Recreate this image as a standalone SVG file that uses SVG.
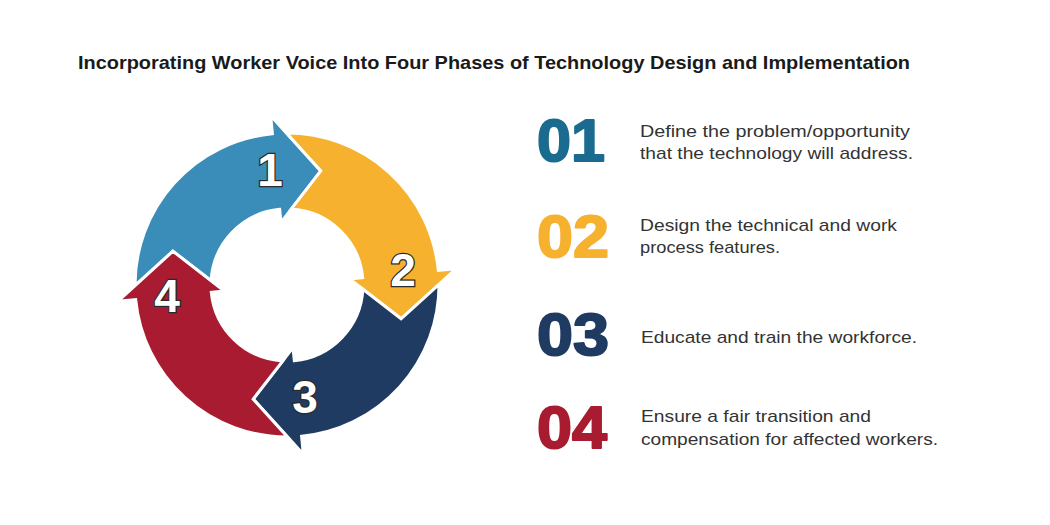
<svg xmlns="http://www.w3.org/2000/svg" width="1050" height="525" viewBox="0 0 1050 525">
<style>
.arrow{stroke:#ffffff;stroke-width:3;stroke-linejoin:miter}
.num{font-family:"Liberation Sans",Arial,sans-serif;font-weight:bold;font-size:46px;fill:#ffffff;stroke:#2a2a2a;stroke-width:2.5;paint-order:stroke;text-anchor:middle}
.big{font-family:"Liberation Sans",Arial,sans-serif;font-weight:bold;font-size:60px;stroke-width:2;stroke-linejoin:round}
.desc{font-family:"Liberation Sans",Arial,sans-serif;font-size:17px;fill:#333333}
.title{font-family:"Liberation Sans",Arial,sans-serif;font-weight:bold;font-size:19px;fill:#1a1a1a}
</style>
<rect width="1050" height="525" fill="#ffffff"/>
<text class="title" x="78" y="69" textLength="832" lengthAdjust="spacingAndGlyphs">Incorporating Worker Voice Into Four Phases of Technology Design and Implementation</text>
<g id="connectors"/>
<g id="phase1">
<path class="arrow" fill="#3A8DB9" d="M135.0,285.5 A152,152 0 0 1 272.4,133.7 L270.7,115.8 L320.8,170.9 L281.0,222.3 L279.7,209.3 A76,76 0 0 0 211.1,280.8 L172.9,251.2 Z"/>
<text class="num" x="270" y="186">1</text>
</g>
<g id="phase2">
<path class="arrow" fill="#F6B12F" d="M286.5,133.0 A152,152 0 0 1 438.3,270.4 L456.2,268.7 L401.1,318.8 L349.7,279.0 L362.7,277.7 A76,76 0 0 0 291.2,209.1 L320.8,170.9 Z"/>
<text class="num" x="403" y="286">2</text>
</g>
<g id="phase3">
<path class="arrow" fill="#1F3B62" d="M439.0,284.5 A152,152 0 0 1 301.6,436.3 L303.3,454.2 L253.2,399.1 L293.0,347.7 L294.3,360.7 A76,76 0 0 0 362.9,289.2 L401.1,318.8 Z"/>
<text class="num" x="305" y="413">3</text>
</g>
<g id="phase4">
<path class="arrow" fill="#A81B30" d="M287.5,437.0 A152,152 0 0 1 135.7,299.6 L117.8,301.3 L172.9,251.2 L224.3,291.0 L211.3,292.3 A76,76 0 0 0 282.8,360.9 L253.2,399.1 Z"/>
<text class="num" x="167" y="312">4</text>
</g>
<g id="item1">
<text class="big" x="537" y="161" fill="#1B6B90" stroke="#1B6B90" textLength="68" lengthAdjust="spacingAndGlyphs">01</text>
<text class="desc" x="640" y="137" textLength="270" lengthAdjust="spacingAndGlyphs">Define the problem/opportunity</text>
<text class="desc" x="640" y="159" textLength="273" lengthAdjust="spacingAndGlyphs">that the technology will address.</text>
</g>
<g id="item2">
<text class="big" x="537" y="257" fill="#F6B12F" stroke="#F6B12F" textLength="72" lengthAdjust="spacingAndGlyphs">02</text>
<text class="desc" x="640" y="231" textLength="257" lengthAdjust="spacingAndGlyphs">Design the technical and work</text>
<text class="desc" x="640" y="253" textLength="140" lengthAdjust="spacingAndGlyphs">process features.</text>
</g>
<g id="item3">
<text class="big" x="537" y="355" fill="#1F3B62" stroke="#1F3B62" textLength="72" lengthAdjust="spacingAndGlyphs">03</text>
<text class="desc" x="641" y="343" textLength="276" lengthAdjust="spacingAndGlyphs">Educate and train the workforce.</text>
</g>
<g id="item4">
<text class="big" x="537" y="448" fill="#A81B30" stroke="#A81B30" textLength="70" lengthAdjust="spacingAndGlyphs">04</text>
<text class="desc" x="641" y="422" textLength="230" lengthAdjust="spacingAndGlyphs">Ensure a fair transition and</text>
<text class="desc" x="641" y="445" textLength="297" lengthAdjust="spacingAndGlyphs">compensation for affected workers.</text>
</g>
</svg>
